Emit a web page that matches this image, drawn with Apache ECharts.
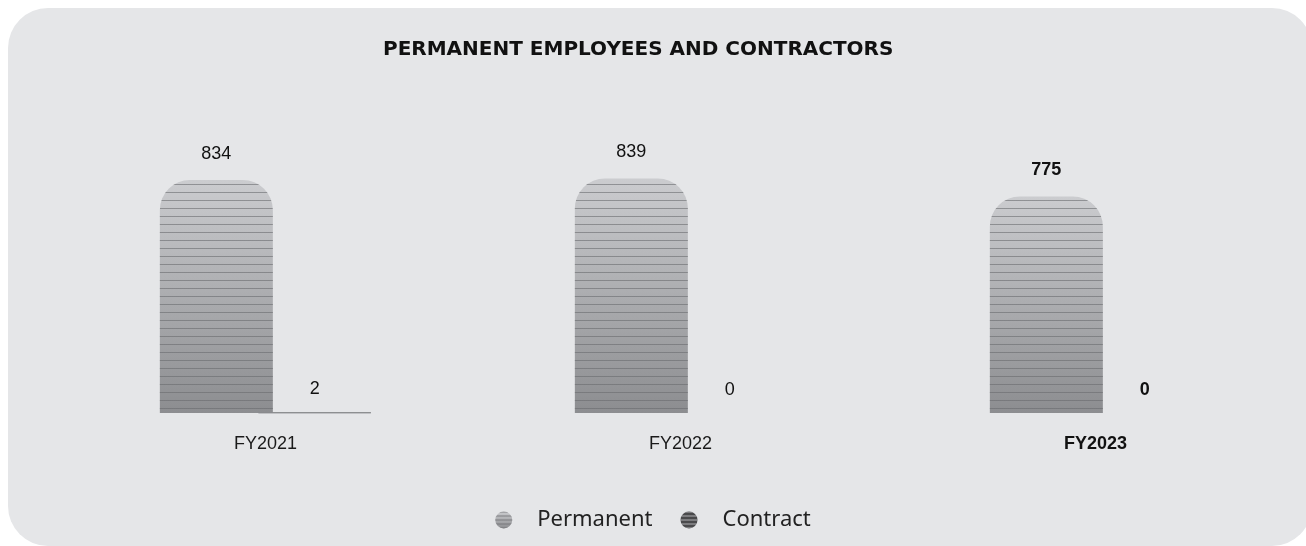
<!DOCTYPE html>
<html>
<head>
<meta charset="utf-8">
<script src="https://cdn.jsdelivr.net/npm/echarts@6/dist/echarts.min.js"></script>
<style>
  html, body { margin: 0; padding: 0; background: #ffffff; }
  #chart { width: 1306px; height: 546px; }
</style>
</head>
<body>
<div id="chart"></div>
<script>
// Headcount by fiscal year
const categories = ['FY2021', 'FY2022', 'FY2023'];
const permanent = [834, 839, 775];
const contract = [2, 0, 0];
const seriesNames = ['Permanent', 'Contract'];
const titleText = 'PERMANENT EMPLOYEES AND CONTRACTORS';

const LATEST = categories.length - 1;
const labelFont = '"Liberation Sans", Arial, sans-serif';
const headFont = '"DejaVu Sans", "Noto Sans", sans-serif';
const legendFont = '"Noto Sans", "Open Sans", sans-serif';

// horizontal ruled-line texture laid over the bar fill
const stripes = {
  symbol: 'rect',
  symbolSize: 1,
  dashArrayX: [1, 0],
  dashArrayY: [1, 7],
  color: 'rgba(105,106,110,0.6)'
};
const iconStripes = {
  symbol: 'rect',
  symbolSize: 1,
  dashArrayX: [1, 0],
  dashArrayY: [1, 3],
  color: 'rgba(110,110,114,0.8)'
};
const darkIconStripes = {
  symbol: 'rect',
  symbolSize: 1,
  dashArrayX: [1, 0],
  dashArrayY: [1, 3],
  color: 'rgba(200,200,204,0.8)'
};

const permFill = () => new echarts.graphic.LinearGradient(0, 0, 0, 1, [
  { offset: 0, color: '#cbcccf' },
  { offset: 1, color: '#8c8d90' }
]);

function withLabelWeight(values, extra) {
  return values.map((v, i) => Object.assign({
    value: v,
    label: { fontWeight: i === LATEST ? 'bold' : 'normal' }
  }, extra ? extra(v, i) : {}));
}

const chart = echarts.init(document.getElementById('chart'), null, { renderer: 'canvas' });

chart.setOption({
  backgroundColor: '#ffffff',
  animation: false,
  graphic: [{
    type: 'rect',
    z: -10,
    shape: { x: 8, y: 8, width: 1304, height: 538, r: 40 },
    style: { fill: '#e5e6e8' }
  }],
  title: {
    text: titleText,
    left: 378,
    top: 35,
    textStyle: { fontFamily: headFont, fontWeight: 'bold', fontSize: 20, color: '#111' }
  },
  legend: {
    data: [
      { name: seriesNames[0], itemStyle: { color: permFill(), decal: iconStripes } },
      { name: seriesNames[1], itemStyle: { color: '#4a4a4c', decal: darkIconStripes } }
    ],
    bottom: 10,
    left: 'center',
    icon: 'circle',
    itemWidth: 17,
    itemHeight: 17,
    itemGap: 28,
    textStyle: { fontFamily: legendFont, fontSize: 22, color: '#222', padding: [0, 0, 0, 20] }
  },
  grid: { left: 58, right: 3, top: 100, bottom: 133 },
  xAxis: {
    type: 'category',
    data: categories,
    axisLine: { show: false },
    axisTick: { show: false },
    axisLabel: {
      margin: 22,
      formatter: (v, i) => (i === LATEST ? '{b|' + v + '}' : '{n|' + v + '}'),
      rich: {
        n: { fontFamily: labelFont, fontSize: 18, color: '#1a1a1a' },
        b: { fontFamily: labelFont, fontSize: 18, fontWeight: 'bold', color: '#111' }
      }
    }
  },
  yAxis: {
    type: 'value',
    min: 0,
    max: 1120,
    show: false,
    splitLine: { show: false }
  },
  series: [
    {
      name: seriesNames[0],
      type: 'bar',
      barWidth: 113,
      barGap: '-13%',
      data: withLabelWeight(permanent),
      itemStyle: {
        borderRadius: [30, 30, 0, 0],
        color: permFill(),
        decal: stripes
      },
      label: {
        show: true,
        position: 'top',
        distance: 17,
        fontFamily: labelFont,
        fontSize: 18,
        color: '#111'
      }
    },
    {
      name: seriesNames[1],
      type: 'bar',
      barWidth: 113,
      barGap: '-13%',
      // a thin outline keeps very small non-zero counts visible
      data: withLabelWeight(contract, (v) => ({
        itemStyle: { borderColor: '#8a8b8e', borderWidth: v > 0 ? 1 : 0 }
      })),
      itemStyle: { color: '#8a8b8e' },
      label: {
        show: true,
        position: 'top',
        distance: 14,
        fontFamily: labelFont,
        fontSize: 18,
        color: '#111'
      }
    }
  ]
});
</script>
</body>
</html>
